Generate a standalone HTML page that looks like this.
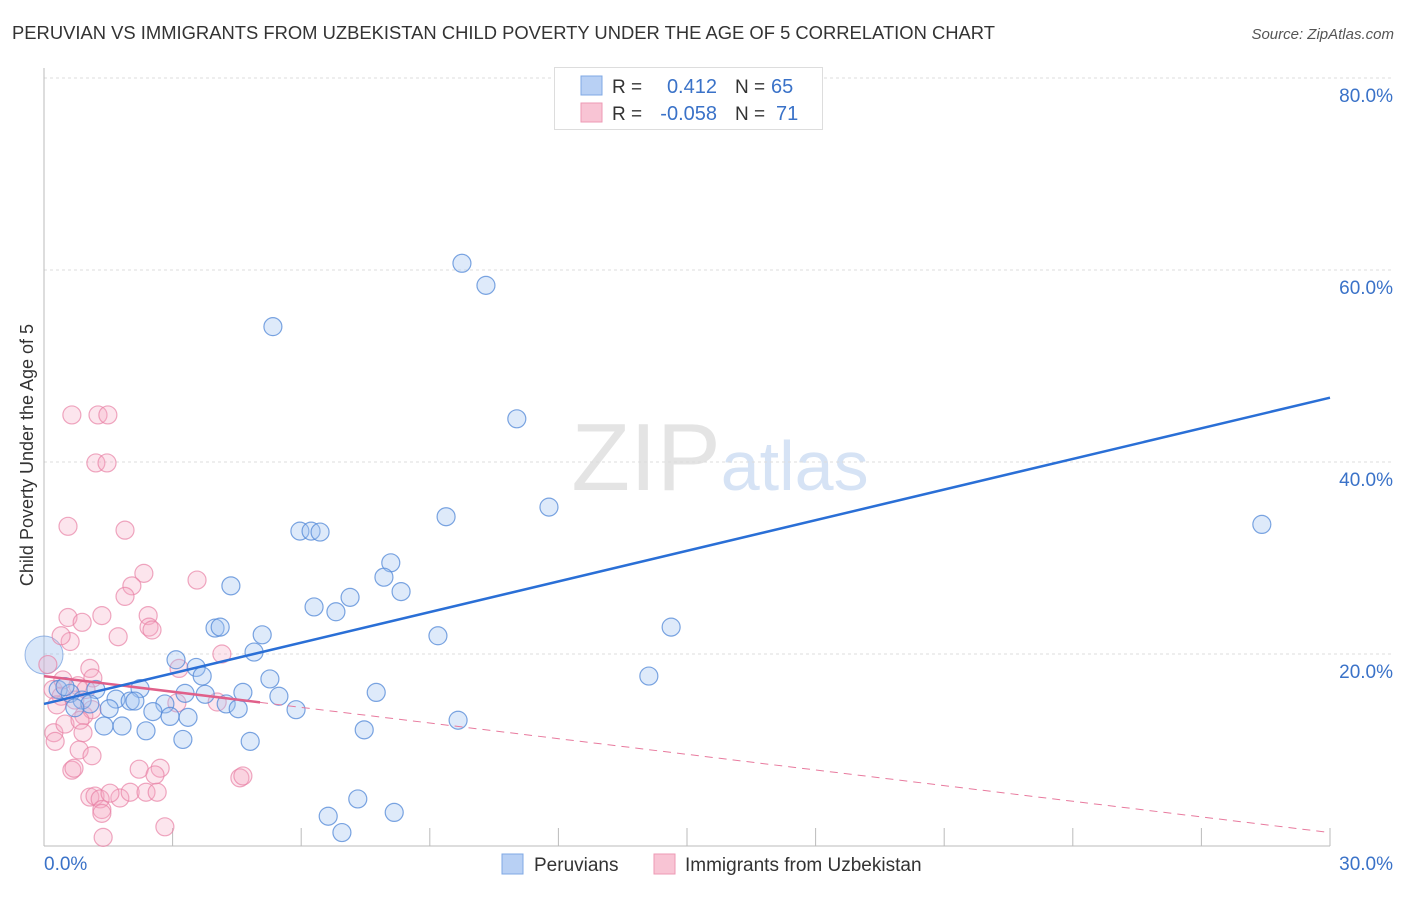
<!DOCTYPE html>
<html><head><meta charset="utf-8"><style>
body{margin:0;background:#fff;font-family:"Liberation Sans",sans-serif;}
svg text{font-family:"Liberation Sans",sans-serif;}
</style></head><body>
<svg id="chart" width="1406" height="892" xmlns="http://www.w3.org/2000/svg">
<text x="12" y="39" font-size="18" fill="#333" textLength="983" lengthAdjust="spacingAndGlyphs">PERUVIAN VS IMMIGRANTS FROM UZBEKISTAN CHILD POVERTY UNDER THE AGE OF 5 CORRELATION CHART</text>
<text x="1394" y="39" font-size="15" fill="#555" text-anchor="end" font-style="italic">Source: ZipAtlas.com</text>
<text x="720" y="490" font-size="96" text-anchor="middle" fill="#e4e4e4" font-family="Liberation Serif">ZIP<tspan fill="#d6e3f5" font-family="Liberation Sans" font-size="70">atlas</tspan></text>
<text transform="translate(33,455) rotate(-90)" font-size="18" fill="#333" text-anchor="middle">Child Poverty Under the Age of 5</text>
<g id="grid"></g><g id="marks"></g>
<g>
<rect x="554.5" y="67.5" width="268" height="62" fill="#fff" stroke="#ddd"/>
<rect x="581" y="76" width="21" height="19" fill="#b8d0f4" stroke="#7fa8e4"/>
<rect x="581" y="103" width="21" height="19" fill="#f8c4d4" stroke="#ee9ab4"/>
<text x="612" y="93" font-size="19" fill="#333">R =</text><text x="717" y="93" font-size="20" fill="#3a72c8" text-anchor="end">0.412</text>
<text x="735" y="93" font-size="19" fill="#333">N =</text><text x="771" y="93" font-size="20" fill="#3a72c8">65</text>
<text x="612" y="120" font-size="19" fill="#333">R =</text><text x="717" y="120" font-size="20" fill="#3a72c8" text-anchor="end">-0.058</text>
<text x="735" y="120" font-size="19" fill="#333">N =</text><text x="776" y="120" font-size="20" fill="#3a72c8">71</text>
</g>
<g>
<rect x="502" y="854" width="21" height="20" fill="#b8d0f4" stroke="#7fa8e4"/>
<text x="534" y="871" font-size="19" fill="#333">Peruvians</text>
<rect x="654" y="854" width="21" height="20" fill="#f8c4d4" stroke="#ee9ab4"/>
<text x="685" y="871" font-size="19" fill="#333">Immigrants from Uzbekistan</text>
</g>
</svg>
<script>
const blueX=[9.75,10.31,5.34,11.03,11.78,9.38,28.41,5.97,6.23,6.44,8.09,7.93,4.36,8.33,7.14,6.30,6.81,14.63,3.99,4.11,5.09,9.19,4.90,3.08,3.55,3.69,14.11,5.27,1.21,2.24,3.29,3.76,4.64,7.75,5.48,1.68,2.01,2.12,2.82,4.25,4.53,5.88,2.54,1.52,2.94,3.36,9.66,1.40,1.82,2.38,7.47,3.24,4.81,7.32,6.63,8.17,6.95,0.33,0.61,0.89,1.07,0.72,0.49];
const blueY=[60.7,58.4,54.1,44.5,35.3,34.3,33.5,32.8,32.8,32.7,29.5,28.0,27.1,26.5,25.9,24.9,24.4,22.8,22.7,22.8,22.0,21.9,20.2,19.4,18.6,17.7,17.7,17.4,16.3,16.4,15.9,15.8,16.0,16.0,15.6,15.3,15.1,15.1,14.8,14.8,14.3,14.2,14.0,14.3,13.5,13.4,13.1,12.5,12.5,12.0,12.1,11.1,10.9,4.9,3.1,3.5,1.4,16.3,15.9,15.2,14.8,14.4,16.6];
const pinkX=[0.65,1.26,1.49,1.21,1.47,0.56,1.89,2.33,2.05,1.89,1.35,0.56,2.43,0.89,2.45,2.52,3.57,1.73,0.61,0.40,4.15,0.09,3.15,1.07,1.14,0.21,0.44,0.79,0.98,0.40,0.72,0.30,0.93,1.12,3.10,4.04,0.23,0.26,0.49,0.84,0.91,0.82,1.12,0.65,0.70,2.22,2.71,2.59,4.57,4.64,1.07,1.19,1.31,1.77,1.54,2.01,2.38,2.64,1.35,1.35,1.38,2.82];
const pinkY=[44.9,44.9,44.9,39.9,39.9,33.3,32.9,28.4,27.1,26.0,24.0,23.8,24.0,23.3,22.8,22.5,27.7,21.8,21.3,21.9,20.0,18.9,18.5,18.5,17.5,16.3,17.3,16.7,16.3,15.6,15.2,14.7,13.6,14.2,14.9,15.0,11.8,10.9,12.7,13.1,11.8,10.0,9.4,7.9,8.1,8.0,8.1,7.4,7.1,7.3,5.1,5.2,4.9,5.0,5.5,5.6,5.6,5.6,3.8,3.4,0.9,2.0];
const yTicks=[20,40,60,80];
const xTickLabels=["0.0%","30.0%"];
const blueLine=[14.8,46.7];
const pinkLine=[17.7,1.4];
const pinkSolidEnd=5.04;
const X=v=>44+v/30*1286, Y=v=>846-v/20*192;
const NS="http://www.w3.org/2000/svg";
function mk(p,t,a){const e=document.createElementNS(NS,t);for(const k in a)e.setAttribute(k,a[k]);p.appendChild(e);return e;}
const grid=document.getElementById('grid'),marks=document.getElementById('marks');
yTicks.forEach(t=>{
 const l=mk(grid,'line',{x1:44,x2:1393,y1:Y(t),y2:Y(t),stroke:'#ddd','stroke-dasharray':'3,3'});
 
 
 const tx=mk(grid,'text',{x:1393,y:Y(t)+24,'font-size':19,fill:'#3a72c8','text-anchor':'end'});tx.textContent=t.toFixed(1)+'%';
 
 
});
mk(grid,'line',{x1:44,x2:44,y1:68,y2:846,stroke:'#bbb'});
mk(grid,'line',{x1:44,x2:1330,y1:846,y2:846,stroke:'#bbb'});
for(let i=1;i<=10;i++){const l=mk(grid,'line',{x1:X(i*3),x2:X(i*3),y1:828,y2:846,stroke:'#bbb'});
 
 }
[[0,'start'],[30,'end']].forEach((d,i)=>{const t=mk(grid,'text',{x:i?1393:44,y:870,'font-size':19,fill:'#3a72c8','text-anchor':d[1]});t.textContent=xTickLabels[i];
 
 });
const big=mk(marks,'circle',{cx:X(0),cy:Y(19.9),r:19,fill:'rgba(160,195,240,0.4)',stroke:'rgba(90,140,215,0.6)'});


pinkX.forEach((x,i)=>{const c=mk(marks,'circle',{cx:X(x),cy:Y(pinkY[i]),r:9,fill:'rgba(245,170,195,0.3)',stroke:'rgba(232,130,165,0.7)','stroke-width':1.2});
 
 });
blueX.forEach((x,i)=>{const c=mk(marks,'circle',{cx:X(x),cy:Y(blueY[i]),r:9,fill:'rgba(160,195,240,0.35)',stroke:'rgba(80,135,215,0.75)','stroke-width':1.2});
 
 });
const pv=x=>pinkLine[0]+(pinkLine[1]-pinkLine[0])*x/30;
const pd=mk(marks,'line',{x1:X(pinkSolidEnd),y1:Y(pv(pinkSolidEnd)),x2:X(30),y2:Y(pinkLine[1]),stroke:'#e87a9e','stroke-width':1,'stroke-dasharray':'8,6'});


const ps=mk(marks,'line',{x1:X(0),y1:Y(pinkLine[0]),x2:X(pinkSolidEnd),y2:Y(pv(pinkSolidEnd)),stroke:'#e0608a','stroke-width':2.5});


const bl=mk(marks,'line',{x1:X(0),y1:Y(blueLine[0]),x2:X(30),y2:Y(blueLine[1]),stroke:'#2a6fd6','stroke-width':2.5});


</script>
</body></html>
